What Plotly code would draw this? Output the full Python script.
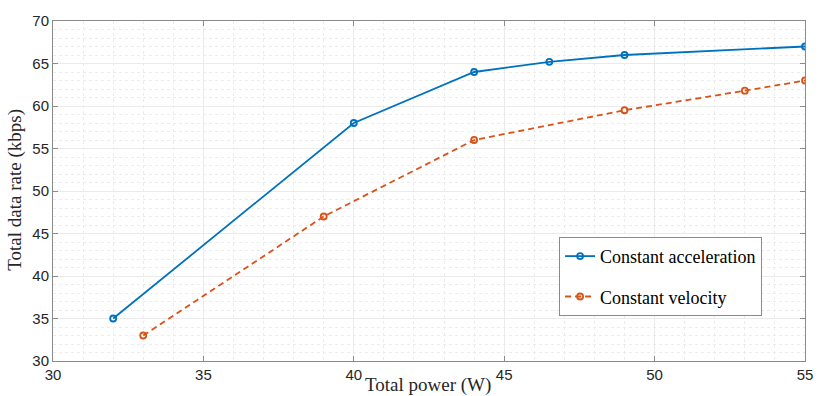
import plotly.graph_objects as go

power_acc = [32, 40, 44, 46.5, 49, 55]
rate_acc = [35, 58, 64, 65.2, 66, 67]
power_vel = [33, 39, 44, 49, 53, 55]
rate_vel = [33, 47, 56, 59.5, 61.8, 63]

x_ticks = [30, 35, 40, 45, 50, 55]
y_ticks = [30, 35, 40, 45, 50, 55, 60, 65, 70]

blue = "#0072BD"
orange = "#D95319"
serif = "Liberation Serif, DejaVu Serif, serif"
sans = "Liberation Sans, Arial, sans-serif"

fig = go.Figure()
fig.add_trace(go.Scatter(
    x=power_acc, y=rate_acc, mode="lines+markers", name="Constant acceleration",
    line=dict(color=blue, width=1.8),
    marker=dict(symbol="circle-open", size=6, color=blue, line=dict(width=1.8)),
    legendgroup="a"))
fig.add_trace(go.Scatter(
    x=power_vel, y=rate_vel, mode="lines+markers", name="Constant velocity",
    line=dict(color=orange, width=1.8, dash="6px,4px"),
    marker=dict(symbol="circle-open", size=6, color=orange, line=dict(width=1.8)),
    legendgroup="b"))

axis_common = dict(
    showline=True, linecolor="#8a8a8a", linewidth=1, mirror="ticks",
    ticks="inside", ticklen=5, tickcolor="#8a8a8a",
    showgrid=True, gridcolor="#ebebeb", gridwidth=1,
    zeroline=False,
    tickfont=dict(family=sans, size=15, color="#262626"),
)

fig.update_xaxes(range=[30, 55], tickvals=x_ticks,
                 minor=dict(dtick=1, showgrid=True, griddash="dot", gridcolor="#ececec", ticks=""),
                 **axis_common)
fig.update_yaxes(range=[30, 70], tickvals=y_ticks,
                 minor=dict(dtick=1, showgrid=True, griddash="dot", gridcolor="#ececec", ticks=""),
                 **axis_common)

fig.add_annotation(text="Total power (W)", xref="paper", yref="paper",
                   x=0.499, y=-0.07, xanchor="center", yanchor="middle", showarrow=False,
                   font=dict(family=serif, size=19, color="#262626"))
fig.add_annotation(text="Total data rate (kbps)", xref="paper", yref="paper",
                   x=-0.050, y=0.505, xanchor="center", yanchor="middle", showarrow=False,
                   textangle=-90, font=dict(family=serif, size=19, color="#262626"))

fig.update_layout(
    width=830, height=396,
    margin=dict(l=53, r=25, t=18, b=35),
    plot_bgcolor="white", paper_bgcolor="white",
    showlegend=True,
    legend=dict(x=0.673, y=0.365, xanchor="left", yanchor="top",
                bgcolor="white", bordercolor="#8a8a8a", borderwidth=1,
                font=dict(family=serif, size=18, color="#000000"),
                tracegroupgap=14, itemwidth=30),
)

fig.write_html("out.html", config={"displayModeBar": False},
               post_script="document.body.style.margin='0';")
